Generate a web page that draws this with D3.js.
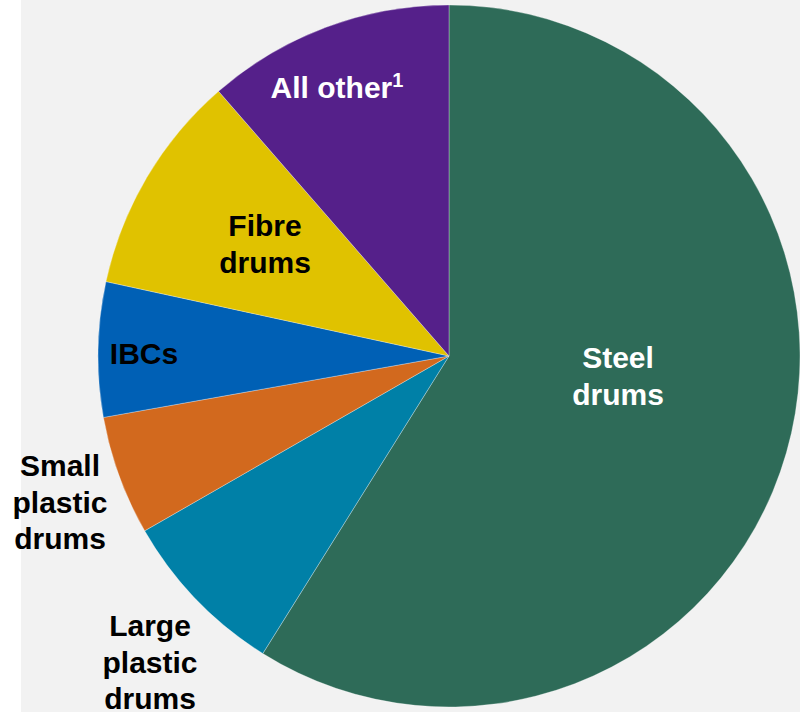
<!DOCTYPE html>
<html>
<head>
<meta charset="utf-8">
<script src="https://cdn.jsdelivr.net/npm/d3@7"></script>
<style>
  html, body { margin: 0; padding: 0; background: #ffffff; }
  svg { display: block; }
  text { font-family: "Liberation Sans", Arial, sans-serif; font-weight: bold; }
</style>
</head>
<body>
<svg id="chart" width="800" height="712"></svg>
<script>
// Data (share of total, %)
const categories = ["Steel drums", "Large plastic drums", "Small plastic drums", "IBCs", "Fibre drums", "All other"];
const values = [58.9, 7.8, 5.5, 6.2, 10.2, 11.4];
const colors = ["#2e6b58", "#0080a7", "#d2691e", "#0060b5", "#e0c200", "#55208a"];
const labelLines = [["Steel", "drums"], ["Large", "plastic", "drums"], ["Small", "plastic", "drums"], ["IBCs"], ["Fibre", "drums"], ["All other"]];
const labelColors = ["#ffffff", "#000000", "#000000", "#000000", "#000000", "#ffffff"];

// Layout
const W = 800, H = 712;
const cx = 449, cy = 356, R = 351;
const fontSize = 30, lineH = 36.5;
// label anchor: first-line baseline position (layout only)
const labelAnchor = [[618, 368], [150, 636], [60, 476], [144, 364], [265, 236], [337, 98]];

const svg = d3.select("#chart");
svg.append("rect").attr("x", 21).attr("y", 0).attr("width", W - 21).attr("height", H).attr("fill", "#f2f2f2");

const pie = d3.pie().sort(null).value(d => d).startAngle(0).endAngle(2 * Math.PI);
const arc = d3.arc().innerRadius(0).outerRadius(R);
const arcs = pie(values);

const g = svg.append("g").attr("transform", `translate(${cx},${cy})`);
g.selectAll("path").data(arcs).enter().append("path")
  .attr("d", arc)
  .attr("fill", (d, i) => colors[i])
  .attr("stroke", "rgba(255,255,255,0.5)")
  .attr("stroke-width", 0.6);

categories.forEach((c, i) => {
  const [x, y] = labelAnchor[i];
  const t = svg.append("text")
    .attr("x", x).attr("y", y)
    .attr("text-anchor", "middle")
    .attr("font-size", fontSize)
    .attr("fill", labelColors[i]);
  labelLines[i].forEach((line, j) => {
    t.append("tspan").attr("x", x).attr("y", y + j * lineH).text(line);
    if (i === 5) {
      // superscript footnote marker
      t.append("tspan").attr("font-size", 20).attr("dy", -11).text("1");
    }
  });
});
</script>
</body>
</html>
